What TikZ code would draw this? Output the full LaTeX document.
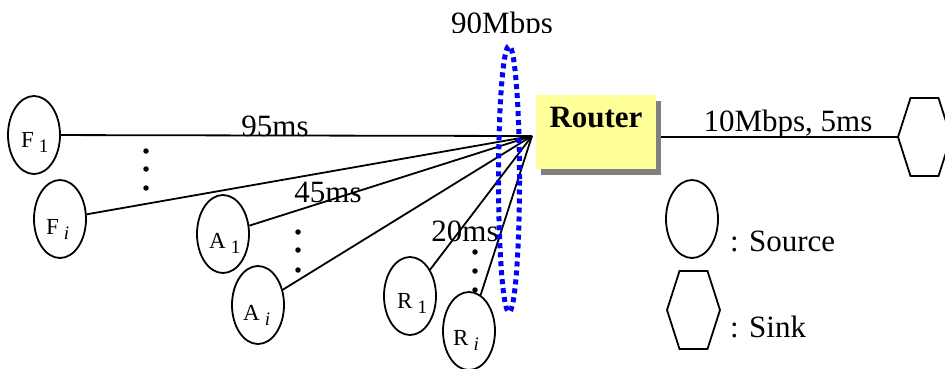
\documentclass[tikz,border=0pt]{standalone}
\usepackage{fontspec}
\setmainfont{Liberation Serif}
\usetikzlibrary{shapes.geometric,shadows,calc}
\definecolor{routeryellow}{HTML}{FFFF99}
\newcommand{\srclab}[2]{#1\hspace{5pt}\raisebox{-5pt}{\fontsize{19}{19}\selectfont #2}}
\begin{document}
\begin{tikzpicture}[x=1pt,y=-1pt,
 src/.style={ellipse,draw,line width=1.8pt,minimum width=52pt,minimum height=78pt,inner sep=0pt},
 link/.style={line width=1.8pt},
 lab/.style={anchor=base west,inner sep=0pt,font=\fontsize{23}{23}\selectfont},
 big/.style={inner sep=0pt,font=\fontsize{31}{31}\selectfont},
 dot/.style={circle,fill,inner sep=0pt,minimum size=5.5pt},
 hexa/.style={line width=1.8pt,line join=miter}
]
\useasboundingbox (0,0) rectangle (945,368);

% sources
\node[src] (F1) at (34,135) {};
\node[src] (Fi) at (60,219) {};
\node[src] (A1) at (223,234) {};
\node[src] (Ai) at (258,305) {};
\node[src] (R1) at (410,296) {};
\node[src] (Ri) at (469,331) {};

\node[lab] (F1l) at (21,147) {\srclab{F}{1}};
\node[lab] (Fil) at (46,234) {\srclab{F}{\textit{i}}};
\node[lab] (A1l) at (209,248) {\srclab{A}{1}};
\node[lab] (Ail) at (243,320) {\srclab{A}{\textit{i}}};
\node[lab] (R1l) at (397,308) {\srclab{R}{1}};
\node[lab] (Ril) at (453,345) {\srclab{R}{\textit{i}}};

\coordinate (rp) at (532,136);

\draw[link] (F1) -- (rp);
\draw[link] (Fi) -- (rp);
\draw[link] (A1) -- (rp);
\draw[link] (Ai) -- (rp);
\draw[link] (R1) -- (rp);
\draw[link] (Ri) -- (rp);

% dots
\node[dot] (fd1) at (146,151) {};
\node[dot] (fd2) at (146,169) {};
\node[dot] (fd3) at (146,188) {};
\node[dot] (ad1) at (298,232) {};
\node[dot] (ad2) at (298,250) {};
\node[dot] (ad3) at (298,270) {};
\node[dot] (rd1) at (475,252) {};
\node[dot] (rd2) at (475,271) {};
\node[dot] (rd3) at (475,290) {};

% delay labels
\node[big,anchor=base] (d95) at (275,136) {95ms};
\node[big,anchor=base] (d45) at (328,202) {45ms};
\node[big,anchor=base] (d20) at (465,241) {20ms};

% bottleneck ellipse
\draw[blue,line width=5pt,dash pattern=on 5pt off 4pt] (509,179) ellipse [x radius=10.5pt, y radius=133pt];
\begin{scope}
\clip (0,0) rectangle (945,32);
\node[big,anchor=base] (bw) at (502,33.5) {90Mbps};
\end{scope}

% router
\node[fill=routeryellow,minimum width=120pt,minimum height=74pt,inner sep=0pt,
 drop shadow={shadow xshift=5pt,shadow yshift=-6pt,fill=black!50,opacity=1}] (router) at (596,132) {};
\node[big,anchor=base,font=\fontsize{31}{31}\selectfont\bfseries] (routerlab) at (596,127) {Router};

% sink
\coordinate (sinkc) at (924.5,137);
\draw[hexa] (sinkc) +(-26.5,0) -- +(-14,-39) -- +(14,-39) -- +(26.5,0) -- +(14,39) -- +(-14,39) -- cycle;
\coordinate (sinkL) at ($(sinkc)+(-26.5,0)$);
\coordinate (rs) at ($(router.east |- sinkL)+(5,0)$);
\draw[link] (rs) -- (sinkL);
\node[big,anchor=base] (out) at (788,131) {10Mbps, 5ms};

% legend
\node[src] (legsrc) at (692,219) {};
\node[big,anchor=base west] (legsrct) at (730,251) {: Source};
\coordinate (legsinkc) at (693.5,310);
\draw[hexa] (legsinkc) +(-26.5,0) -- +(-14,-39) -- +(14,-39) -- +(26.5,0) -- +(14,39) -- +(-14,39) -- cycle;
\node[big,anchor=base west] (legsinkt) at (730,337) {: Sink};
\end{tikzpicture}
\end{document}
